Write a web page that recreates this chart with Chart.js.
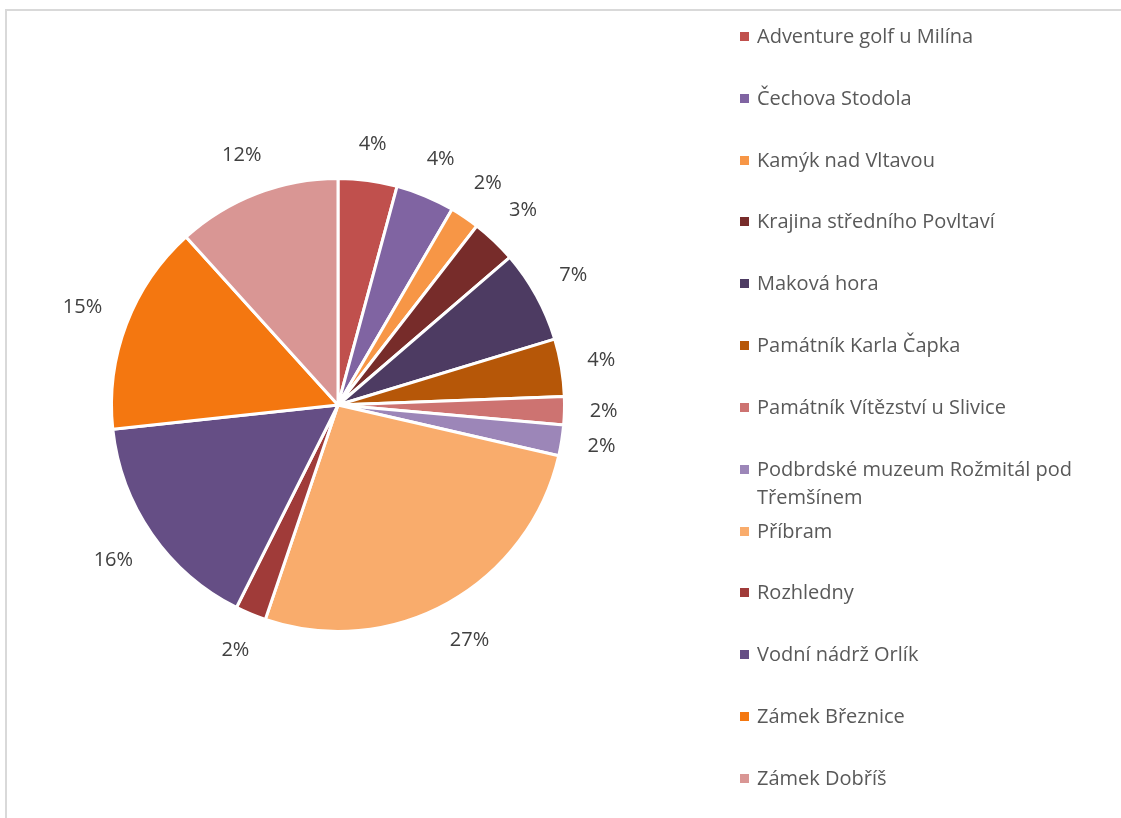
<!DOCTYPE html>
<html>
<head>
<meta charset="utf-8">
<script src="https://cdn.jsdelivr.net/npm/chart.js@4"></script>
<style>
  html, body { margin: 0; padding: 0; background: #fff; overflow: hidden; }
  #wrap { position: relative; width: 1121px; height: 818px; overflow: hidden; }
  #frame { position: absolute; left: 5px; top: 9px; width: 1300px; height: 900px; border: 2px solid #d9d9d9; box-sizing: border-box; }
  #myChart { position: absolute; left: 0; top: 0; }
  #legend { position: absolute; left: 740px; top: 0; width: 380px; font-family: "Open Sans", sans-serif; font-size: 20px; color: #595959; }
  #legend .item { position: absolute; left: 0; display: flex; align-items: flex-start; line-height: 28px; }
  #legend .box { width: 9px; height: 9px; margin-top: 10px; margin-right: 8px; flex: none; }
</style>
</head>
<body>
<div id="wrap">
  <div id="frame"></div>
  <canvas id="myChart" width="1121" height="818"></canvas>
  <div id="legend"></div>
</div>
<script>
// categories and values (share of visits, %)
const places = ['Adventure golf u Milína', 'Čechova Stodola', 'Kamýk nad Vltavou', 'Krajina středního Povltaví',
  'Maková hora', 'Památník Karla Čapka', 'Památník Vítězství u Slivice', 'Podbrdské muzeum Rožmitál pod Třemšínem',
  'Příbram', 'Rozhledny', 'Vodní nádrž Orlík', 'Zámek Březnice', 'Zámek Dobříš'];
const shares = [4.2, 4.2, 2.1, 3.2, 6.6, 4.1, 2.0, 2.2, 26.6, 2.2, 15.9, 15.0, 11.7];
const sliceColors = ['#C0504D', '#8064A2', '#F79646', '#772C2A', '#4D3B62', '#B65708', '#CD7371',
  '#9C86B8', '#F9AC6C', '#A03B39', '#654E85', '#F47710', '#D99694'];

const total = shares.reduce((a, b) => a + b, 0);

// percentage labels outside the slices
const outsideLabels = {
  id: 'outsideLabels',
  afterDatasetsDraw(chart) {
    const ctx = chart.ctx;
    const meta = chart.getDatasetMeta(0);
    ctx.save();
    ctx.font = '20px "Open Sans", sans-serif';
    ctx.fillStyle = '#404040';
    ctx.textAlign = 'center';
    ctx.textBaseline = 'middle';
    meta.data.forEach((arc, i) => {
      const p = arc.getProps(['x', 'y', 'startAngle', 'endAngle', 'outerRadius'], true);
      const mid = (p.startAngle + p.endAngle) / 2;
      const txt = Math.round(shares[i] / total * 100) + '%';
      const w = ctx.measureText(txt).width;
      const cx = Math.cos(mid), cy = Math.sin(mid);
      const d = p.outerRadius + 25 + Math.abs(cx) * w / 2 + Math.abs(cy) * 10;
      ctx.fillText(txt, p.x + cx * d, p.y + cy * d);
    });
    ctx.restore();
  }
};

const ctx = document.getElementById('myChart');

new Chart(ctx, {
  type: 'pie',
  data: {
    labels: places,
    datasets: [{
      data: shares,
      backgroundColor: sliceColors,
      borderColor: '#ffffff',
      borderWidth: 3
    }]
  },
  options: {
    responsive: false,
    animation: false,
    layout: { padding: { left: 110, right: 555, top: 177, bottom: 185 } },
    plugins: {
      legend: { display: false },
      tooltip: { enabled: false }
    }
  },
  plugins: [outsideLabels]
});

// legend on the right
const legendTops = [36, 98, 160, 221, 283, 345, 407, 469, 531, 592, 654, 716, 778];
const legend = document.getElementById('legend');
places.forEach((name, i) => {
  const item = document.createElement('div');
  item.className = 'item';
  item.style.top = (legendTops[i] - 14) + 'px';
  const box = document.createElement('span');
  box.className = 'box';
  box.style.background = sliceColors[i];
  const label = document.createElement('span');
  label.textContent = name;
  if (i === 7) label.style.width = '340px';
  item.appendChild(box);
  item.appendChild(label);
  legend.appendChild(item);
});
</script>
</body>
</html>
